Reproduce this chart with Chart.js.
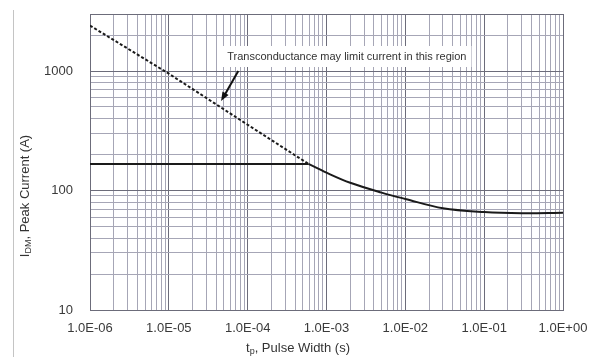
<!DOCTYPE html>
<html>
<head>
<meta charset="utf-8">
<script src="https://cdn.jsdelivr.net/npm/chart.js@4"></script>
<style>
  html, body { margin: 0; padding: 0; background: #fff; }
  #wrap { position: relative; width: 595px; height: 357px; }
  #edge { position: absolute; left: 13px; top: 10px; width: 1px; height: 347px; background: #c4c4c4; }
</style>
</head>
<body>
<div id="wrap">
  <div id="edge"></div>
  <canvas id="myChart" width="595" height="357"></canvas>
</div>
<script>
// transconductance limited part (dashed)
var dashX = [1e-6, 1e-5, 1e-4, 5.9e-4];
var dashY = [2400, 950, 355, 167];

// flat part of the peak current curve
var flatX = [1e-6, 5.9e-4];
var flatY = [167, 167];

// thermally limited part of the peak current curve
var curveX = [5.9e-4, 1e-3, 2e-3, 5e-3, 1e-2, 3e-2, 1e-1, 3e-1, 1];
var curveY = [167, 141, 116, 96, 85, 71, 66, 64.5, 65];

var xTicks = [];
var yTicks = [];
[1e-6, 1e-5, 1e-4, 1e-3, 1e-2, 1e-1].forEach(function (d) {
    for (var i = 1; i < 10; i++) xTicks.push(+(d * i).toPrecision(3));
});
xTicks.push(1);
[10, 100].forEach(function (d) {
    for (var i = 1; i < 10; i++) yTicks.push(d * i);
});
yTicks.push(1000, 2000, 3000);

var xLabels = ['1.0E-06', '1.0E-05', '1.0E-04', '1.0E-03', '1.0E-02', '1.0E-01', '1.0E+00'];
var yLabels = {10: '10', 100: '100', 1000: '1000'};

var noteText = 'Transconductance may limit current in this region';
var noteAt = [5.5e-5, 1310];
var arrowFrom = [7.6e-5, 1000];
var arrowTo = [4.6e-5, 560];

function isDecade(v) {
    var l = Math.log10(v);
    return Math.abs(l - Math.round(l)) < 1e-6;
}

function toPoints(xs, ys) {
    return xs.map(function (x, i) { return {x: x, y: ys[i]}; });
}

function gridColor(ctx) {
    var v = ctx.tick && ctx.tick.value;
    if (v === undefined) return '#a6a6b6';
    return isDecade(v) || v === 3000 ? '#6c6c7a' : '#a6a6b6';
}

function noPadding(scale) {
    scale.paddingTop = 0;
    scale.paddingBottom = 0;
    scale.paddingLeft = 0;
    scale.paddingRight = 0;
}

function subText(c, parts, x, y) {
    // parts: [text, isSub]
    var w = 0;
    parts.forEach(function (p) {
        c.font = p[1] ? '9px "Liberation Sans", Arial' : '13px "Liberation Sans", Arial';
        w += c.measureText(p[0]).width;
    });
    var cx = x - w / 2;
    parts.forEach(function (p) {
        c.font = p[1] ? '9px "Liberation Sans", Arial' : '13px "Liberation Sans", Arial';
        c.fillText(p[0], cx, p[1] ? y + 4 : y);
        cx += c.measureText(p[0]).width;
    });
}

var extras = {
    id: 'extras',
    afterDatasetsDraw: function (chart) {
        var c = chart.ctx;
        var sx = chart.scales.x, sy = chart.scales.y;
        c.save();
        // note box and text
        c.font = '11px "Liberation Sans", Arial';
        var tx = sx.getPixelForValue(noteAt[0]);
        var ty = sy.getPixelForValue(noteAt[1]);
        var tw = c.measureText(noteText).width;
        c.fillStyle = '#fff';
        c.fillRect(tx - 5, ty - 11, tw + 10, 21);
        c.fillStyle = '#333';
        c.textBaseline = 'middle';
        c.fillText(noteText, tx, ty);
        // arrow
        var x1 = sx.getPixelForValue(arrowFrom[0]), y1 = sy.getPixelForValue(arrowFrom[1]);
        var x2 = sx.getPixelForValue(arrowTo[0]), y2 = sy.getPixelForValue(arrowTo[1]);
        var a = Math.atan2(y2 - y1, x2 - x1);
        c.strokeStyle = '#111';
        c.fillStyle = '#111';
        c.lineWidth = 2;
        c.beginPath();
        c.moveTo(x1, y1);
        c.lineTo(x2 - 6 * Math.cos(a), y2 - 6 * Math.sin(a));
        c.stroke();
        c.beginPath();
        c.moveTo(x2, y2);
        c.lineTo(x2 - 9 * Math.cos(a) + 3.5 * Math.sin(a), y2 - 9 * Math.sin(a) - 3.5 * Math.cos(a));
        c.lineTo(x2 - 9 * Math.cos(a) - 3.5 * Math.sin(a), y2 - 9 * Math.sin(a) + 3.5 * Math.cos(a));
        c.closePath();
        c.fill();
        // axis titles
        c.fillStyle = '#333';
        c.textBaseline = 'middle';
        subText(c, [['t', false], ['p', true], [', Pulse Width (s)', false]], 298, 348);
        c.translate(25, 196);
        c.rotate(-Math.PI / 2);
        subText(c, [['I', false], ['DM', true], [', Peak Current (A)', false]], 0, 0);
        c.restore();
    }
};

var lineStyle = {borderColor: '#1a1a1a', borderWidth: 2, pointRadius: 0, fill: false};

var ctx = document.getElementById('myChart');
var chart = new Chart(ctx, {
    type: 'line',
    data: {
        datasets: [
            Object.assign({label: 'Transconductance limit', data: toPoints(dashX, dashY), borderDash: [3, 2]}, lineStyle),
            Object.assign({label: 'Flat', data: toPoints(flatX, flatY)}, lineStyle),
            Object.assign({label: 'Peak current', data: toPoints(curveX, curveY), tension: 0.35}, lineStyle)
        ]
    },
    options: {
        responsive: false,
        animation: false,
        layout: {padding: {top: 14, right: 32, left: 0, bottom: 0}},
        plugins: {legend: {display: false}, tooltip: {enabled: false}},
        scales: {
            x: {
                type: 'logarithmic',
                min: 1e-6,
                max: 1,
                afterBuildTicks: function (scale) {
                    scale.ticks = xTicks.map(function (v) { return {value: v}; });
                },
                afterFit: function (scale) { scale.height = 47; noPadding(scale); },
                grid: {color: gridColor, drawTicks: false, lineWidth: 1},
                border: {color: '#6c6c7a'},
                ticks: {
                    autoSkip: false,
                    maxRotation: 0,
                    padding: 11,
                    color: '#3a3a3a',
                    font: {family: '"Liberation Sans", Arial', size: 13},
                    callback: function (v) {
                        return isDecade(v) ? xLabels[Math.round(Math.log10(v)) + 6] : '';
                    }
                }
            },
            y: {
                type: 'logarithmic',
                min: 10,
                max: 3000,
                afterBuildTicks: function (scale) {
                    scale.ticks = yTicks.map(function (v) { return {value: v}; });
                },
                afterFit: function (scale) { scale.width = 90; noPadding(scale); },
                grid: {color: gridColor, drawTicks: false, lineWidth: 1},
                border: {color: '#6c6c7a'},
                ticks: {
                    autoSkip: false,
                    padding: 17,
                    color: '#3a3a3a',
                    font: {family: '"Liberation Sans", Arial', size: 13},
                    callback: function (v) { return yLabels[v] || ''; }
                }
            }
        }
    },
    plugins: [extras]
});
</script>
</body>
</html>
